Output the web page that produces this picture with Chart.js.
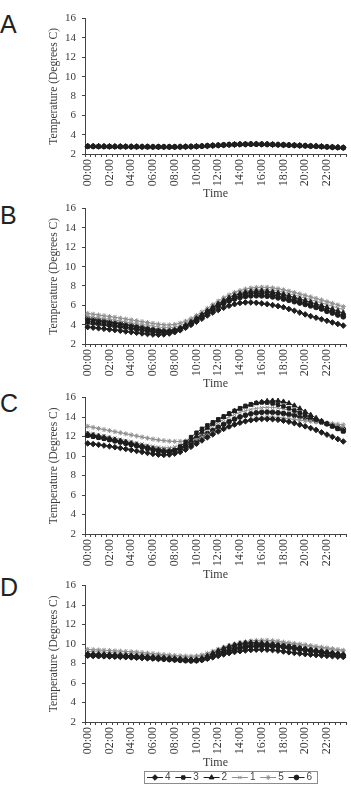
<!DOCTYPE html>
<html><head><meta charset="utf-8">
<script src="https://cdn.jsdelivr.net/npm/chart.js@4.4.1/dist/chart.umd.min.js"></script>
<style>
html,body{margin:0;padding:0;background:#fff;}
body{width:351px;height:798px;position:relative;overflow:hidden;}
canvas{position:absolute;left:0;}
.letter{position:absolute;left:0;font-family:'Liberation Sans',Arial,sans-serif;font-size:25px;line-height:1;color:#222;}
</style></head><body>
<div class="letter" style="top:12px">A</div>
<div class="letter" style="top:203px">B</div>
<div class="letter" style="top:391px">C</div>
<div class="letter" style="top:575px">D</div>
<canvas id="cA" width="351" height="195" style="top:6px"></canvas>
<canvas id="cB" width="351" height="195" style="top:196px"></canvas>
<canvas id="cC" width="351" height="197" style="top:385px"></canvas>
<canvas id="cD" width="351" height="225" style="top:573px"></canvas>
<script>
const timeLabels = ['00:00','00:30','01:00','01:30','02:00','02:30','03:00','03:30','04:00','04:30','05:00','05:30','06:00','06:30','07:00','07:30','08:00','08:30','09:00','09:30','10:00','10:30','11:00','11:30','12:00','12:30','13:00','13:30','14:00','14:30','15:00','15:30','16:00','16:30','17:00','17:30','18:00','18:30','19:00','19:30','20:00','20:30','21:00','21:30','22:00','22:30','23:00','23:30'];
const seriesNames = ['4','3','2','1','5','6'];
const yTickMin = 2, yTickMax = 16, yTickStep = 2;

// Panel A
const a4 = [2.80,2.79,2.79,2.78,2.78,2.77,2.77,2.76,2.76,2.76,2.75,2.75,2.75,2.74,2.74,2.74,2.74,2.75,2.75,2.76,2.78,2.80,2.83,2.86,2.89,2.92,2.95,2.97,2.99,3.00,3.01,3.01,3.00,2.99,2.97,2.95,2.93,2.91,2.89,2.87,2.85,2.82,2.80,2.77,2.74,2.71,2.68,2.65];
const a3 = [2.78,2.78,2.77,2.77,2.76,2.76,2.75,2.75,2.75,2.74,2.74,2.74,2.73,2.73,2.73,2.73,2.73,2.74,2.75,2.77,2.79,2.82,2.85,2.88,2.91,2.94,2.97,2.99,3.01,3.02,3.03,3.02,3.01,3.00,2.98,2.96,2.94,2.92,2.89,2.87,2.84,2.82,2.79,2.76,2.73,2.70,2.67,2.64];
const a2 = [2.81,2.80,2.80,2.79,2.79,2.78,2.78,2.77,2.77,2.76,2.76,2.76,2.75,2.75,2.75,2.75,2.75,2.76,2.77,2.78,2.80,2.83,2.86,2.89,2.92,2.95,2.98,3.00,3.02,3.03,3.04,3.04,3.03,3.02,3.00,2.98,2.96,2.93,2.91,2.88,2.86,2.83,2.81,2.78,2.75,2.72,2.69,2.66];
const a1 = [2.77,2.77,2.76,2.76,2.75,2.75,2.74,2.74,2.74,2.73,2.73,2.73,2.72,2.72,2.72,2.72,2.72,2.73,2.74,2.75,2.77,2.80,2.83,2.86,2.89,2.92,2.95,2.97,2.99,3.00,3.01,3.01,3.00,2.99,2.97,2.95,2.93,2.91,2.88,2.86,2.83,2.81,2.78,2.75,2.72,2.69,2.66,2.63];
const a5 = [2.82,2.82,2.81,2.81,2.80,2.80,2.79,2.79,2.78,2.78,2.78,2.77,2.77,2.77,2.76,2.76,2.76,2.77,2.78,2.79,2.81,2.84,2.87,2.90,2.93,2.96,2.99,3.01,3.03,3.04,3.05,3.05,3.04,3.03,3.01,2.99,2.97,2.95,2.92,2.90,2.87,2.85,2.82,2.79,2.76,2.73,2.70,2.67];
const a6 = [2.79,2.79,2.78,2.78,2.77,2.77,2.76,2.76,2.75,2.75,2.75,2.74,2.74,2.74,2.74,2.73,2.73,2.74,2.75,2.76,2.78,2.81,2.84,2.87,2.90,2.93,2.96,2.98,3.00,3.01,3.02,3.02,3.01,3.00,2.98,2.96,2.94,2.92,2.90,2.87,2.85,2.82,2.80,2.77,2.74,2.71,2.68,2.65];

// Panel B
const b4 = [3.75,3.69,3.63,3.57,3.51,3.44,3.37,3.30,3.23,3.16,3.09,3.03,2.98,2.96,2.99,3.08,3.22,3.42,3.68,3.98,4.30,4.62,4.95,5.25,5.52,5.75,5.95,6.12,6.24,6.30,6.30,6.26,6.20,6.12,6.02,5.92,5.80,5.62,5.44,5.25,5.06,4.88,4.72,4.56,4.40,4.23,4.07,3.90];
const b3 = [4.35,4.28,4.20,4.12,4.03,3.94,3.85,3.75,3.65,3.55,3.45,3.35,3.26,3.19,3.17,3.22,3.36,3.58,3.88,4.22,4.58,4.95,5.32,5.68,6.02,6.33,6.60,6.83,7.01,7.13,7.20,7.23,7.22,7.17,7.08,6.96,6.82,6.67,6.51,6.35,6.18,6.01,5.84,5.66,5.48,5.29,5.10,4.90];
const b2 = [4.20,4.14,4.08,4.01,3.94,3.87,3.80,3.72,3.64,3.56,3.48,3.41,3.34,3.29,3.27,3.31,3.43,3.64,3.93,4.27,4.64,5.02,5.41,5.79,6.15,6.48,6.77,7.01,7.20,7.34,7.43,7.48,7.49,7.45,7.37,7.26,7.13,6.98,6.82,6.66,6.49,6.32,6.14,5.96,5.78,5.59,5.40,5.20];
const b1 = [4.85,4.78,4.71,4.63,4.55,4.47,4.38,4.29,4.20,4.11,4.02,3.93,3.84,3.76,3.70,3.68,3.74,3.88,4.10,4.38,4.70,5.06,5.44,5.82,6.19,6.53,6.84,7.10,7.31,7.47,7.58,7.64,7.66,7.63,7.56,7.46,7.34,7.20,7.05,6.90,6.74,6.58,6.42,6.25,6.08,5.91,5.73,5.55];
const b5 = [5.15,5.08,5.00,4.92,4.84,4.76,4.67,4.58,4.49,4.40,4.31,4.22,4.13,4.05,3.99,3.97,4.02,4.15,4.36,4.63,4.95,5.31,5.69,6.07,6.44,6.78,7.08,7.33,7.53,7.68,7.79,7.85,7.87,7.86,7.80,7.71,7.60,7.47,7.33,7.18,7.03,6.87,6.71,6.55,6.38,6.21,6.04,5.86];
const b6 = [4.60,4.52,4.44,4.36,4.27,4.18,4.09,3.99,3.89,3.79,3.69,3.59,3.49,3.41,3.36,3.36,3.43,3.58,3.82,4.12,4.46,4.82,5.19,5.55,5.89,6.19,6.45,6.65,6.80,6.91,6.97,6.99,6.98,6.94,6.87,6.77,6.65,6.52,6.38,6.24,6.09,5.94,5.78,5.62,5.38,5.20,5.00,4.82];

// Panel C
const c4 = [11.30,11.23,11.16,11.08,11.00,10.91,10.82,10.72,10.62,10.52,10.42,10.32,10.22,10.15,10.12,10.15,10.25,10.42,10.66,10.95,11.27,11.60,11.92,12.23,12.52,12.79,13.03,13.24,13.42,13.57,13.68,13.76,13.80,13.80,13.78,13.72,13.63,13.52,13.38,13.22,13.05,12.87,12.68,12.43,12.20,11.97,11.74,11.50];
const c3 = [12.10,11.99,11.88,11.77,11.65,11.53,11.41,11.28,11.15,11.02,10.88,10.74,10.60,10.47,10.38,10.40,10.60,10.98,11.45,11.95,12.40,12.80,13.15,13.47,13.78,14.08,14.37,14.65,14.92,15.15,15.33,15.45,15.50,15.48,15.40,15.27,15.10,14.90,14.68,14.45,14.22,13.98,13.74,13.52,13.30,13.04,12.78,12.52];
const c2 = [12.25,12.14,12.03,11.92,11.80,11.68,11.56,11.43,11.30,11.17,11.03,10.89,10.75,10.61,10.50,10.46,10.56,10.82,11.18,11.60,12.04,12.48,12.90,13.30,13.67,14.01,14.32,14.60,14.85,15.07,15.26,15.42,15.55,15.64,15.68,15.66,15.58,15.42,15.18,14.88,14.55,14.22,13.90,13.60,13.32,13.06,12.82,12.60];
const c1 = [12.40,12.29,12.18,12.07,11.96,11.84,11.72,11.60,11.48,11.36,11.24,11.12,11.01,10.92,10.86,10.86,10.94,11.12,11.38,11.70,12.05,12.42,12.78,13.13,13.46,13.76,14.03,14.27,14.48,14.65,14.79,14.89,14.96,15.00,14.99,14.94,14.84,14.70,14.52,14.32,14.11,13.91,13.72,13.55,13.39,13.24,13.09,12.95];
const c5 = [13.05,12.94,12.83,12.72,12.61,12.50,12.39,12.28,12.17,12.06,11.95,11.84,11.74,11.65,11.58,11.53,11.50,11.50,11.54,11.62,11.76,11.94,12.14,12.36,12.58,12.80,13.02,13.22,13.42,13.60,13.76,13.88,13.96,14.00,14.00,13.96,13.90,13.83,13.76,13.69,13.62,13.56,13.50,13.44,13.38,13.32,13.26,13.20];
const c6 = [12.15,12.04,11.93,11.82,11.70,11.58,11.46,11.34,11.22,11.10,10.98,10.86,10.75,10.65,10.57,10.54,10.60,10.76,11.00,11.30,11.63,11.97,12.31,12.64,12.96,13.26,13.54,13.79,14.01,14.19,14.33,14.43,14.49,14.51,14.49,14.44,14.37,14.28,14.18,14.06,13.93,13.79,13.64,13.48,13.31,13.13,12.94,12.75];

// Panel D
const d4 = [8.80,8.78,8.76,8.74,8.72,8.70,8.68,8.66,8.63,8.60,8.57,8.54,8.51,8.48,8.45,8.42,8.39,8.36,8.33,8.31,8.32,8.38,8.50,8.64,8.79,8.94,9.07,9.18,9.27,9.34,9.39,9.42,9.43,9.42,9.38,9.32,9.24,9.16,9.09,9.03,8.97,8.92,8.87,8.83,8.79,8.75,8.71,8.67];
const d3 = [8.90,8.88,8.86,8.84,8.82,8.80,8.78,8.75,8.72,8.69,8.66,8.63,8.60,8.56,8.52,8.48,8.44,8.40,8.36,8.34,8.36,8.46,8.64,8.86,9.08,9.28,9.46,9.61,9.73,9.82,9.88,9.92,9.94,9.94,9.92,9.88,9.82,9.75,9.67,9.58,9.49,9.40,9.31,9.22,9.13,9.04,8.95,8.86];
const d2 = [9.00,8.98,8.96,8.94,8.92,8.90,8.87,8.84,8.81,8.78,8.75,8.71,8.67,8.63,8.59,8.55,8.51,8.47,8.43,8.40,8.42,8.55,8.78,9.05,9.32,9.56,9.76,9.92,10.04,10.12,10.15,10.14,10.10,10.04,9.97,9.89,9.81,9.73,9.65,9.57,9.49,9.41,9.33,9.25,9.17,9.09,9.01,8.93];
const d1 = [9.25,9.22,9.19,9.16,9.13,9.10,9.07,9.04,9.01,8.98,8.95,8.91,8.87,8.83,8.79,8.75,8.71,8.67,8.64,8.62,8.65,8.75,8.90,9.08,9.28,9.48,9.66,9.82,9.96,10.07,10.15,10.20,10.22,10.21,10.18,10.13,10.07,10.00,9.93,9.86,9.79,9.72,9.64,9.56,9.48,9.40,9.32,9.24];
const d5 = [9.45,9.42,9.39,9.36,9.33,9.30,9.27,9.24,9.21,9.18,9.12,9.07,9.02,8.97,8.92,8.87,8.83,8.79,8.76,8.75,8.78,8.88,9.05,9.26,9.48,9.68,9.86,10.01,10.14,10.24,10.32,10.37,10.39,10.38,10.34,10.29,10.20,10.13,10.06,9.99,9.92,9.84,9.76,9.68,9.60,9.52,9.44,9.36];
const d6 = [8.85,8.83,8.81,8.79,8.77,8.75,8.73,8.70,8.67,8.64,8.61,8.58,8.54,8.50,8.46,8.42,8.38,8.34,8.30,8.28,8.30,8.38,8.52,8.70,8.90,9.10,9.28,9.44,9.57,9.67,9.74,9.78,9.80,9.80,9.78,9.74,9.68,9.61,9.53,9.45,9.37,9.29,9.21,9.13,9.05,8.97,8.89,8.81];

const DARK = '#1e1e1e', GREY = '#8f8f8f';
const styles = [
  {pointStyle:'rectRot', pointRadius:2.8, borderColor:DARK, pointBackgroundColor:DARK, pointBorderColor:DARK},
  {pointStyle:'rect', pointRadius:2.4, borderColor:DARK, pointBackgroundColor:DARK, pointBorderColor:DARK},
  {pointStyle:'triangle', pointRadius:2.8, borderColor:DARK, pointBackgroundColor:DARK, pointBorderColor:DARK},
  {pointStyle:'crossRot', pointRadius:2.5, borderColor:GREY, pointBackgroundColor:GREY, pointBorderColor:GREY},
  {pointStyle:'star', pointRadius:2.5, borderColor:GREY, pointBackgroundColor:GREY, pointBorderColor:GREY},
  {pointStyle:'circle', pointRadius:2.4, borderColor:DARK, pointBackgroundColor:DARK, pointBorderColor:DARK}
];

const SERIF = '"Liberation Serif","Times New Roman",serif';
const AXIS = '#444', TXT = '#3a3a3a';

const boxLegend = {
  id: 'boxLegend',
  afterDraw(chart, args, opts) {
    if (!opts || !opts.show) return;
    const ctx = chart.ctx;
    ctx.save();
    ctx.strokeStyle = '#8c8c8c'; ctx.lineWidth = 1;
    ctx.strokeRect(opts.x + 0.5, opts.y + 0.5, opts.w, opts.h);
    const cy = opts.y + opts.h / 2 + 0.5;
    chart.data.datasets.forEach((ds, i) => {
      const lx = opts.x + opts.first + i * opts.step;
      ctx.strokeStyle = ds.borderColor; ctx.lineWidth = 1;
      ctx.beginPath(); ctx.moveTo(lx - 18, cy); ctx.lineTo(lx - 2, cy); ctx.stroke();
      ctx.fillStyle = ds.pointBackgroundColor; ctx.strokeStyle = ds.pointBorderColor;
      Chart.helpers.drawPoint(ctx, {pointStyle: ds.pointStyle, radius: ds.pointRadius, borderWidth: 1, rotation: 0}, lx - 10, cy);
      ctx.fillStyle = '#444'; ctx.font = '10px "Liberation Sans", Arial, sans-serif';
      ctx.textBaseline = 'middle'; ctx.textAlign = 'left';
      ctx.fillText(ds.label, lx, cy);
    });
    ctx.restore();
  }
};

function makeChart(id, series, xH, padBottom, legendOpts) {
  return new Chart(document.getElementById(id), {
    type: 'line',
    data: {
      labels: timeLabels,
      datasets: seriesNames.map((n, i) => Object.assign({
        label: n, data: series[i], borderWidth: 1, pointBorderWidth: 1, fill: false, tension: 0
      }, styles[i]))
    },
    options: {
      responsive: false, animation: false, devicePixelRatio: 1,
      layout: {padding: {left: 47, right: 1, top: 10, bottom: padBottom}},
      plugins: {legend: {display: false}, tooltip: {enabled: false}, boxLegend: legendOpts || {show: false}},
      scales: {
        x: {
          offset: true,
          grid: {display: true, drawOnChartArea: false, drawTicks: true, tickLength: 3, color: AXIS, offset: true},
          border: {display: true, color: AXIS, width: 1},
          ticks: {autoSkip: false, maxRotation: 90, minRotation: 90, padding: 2, color: TXT,
                  font: {family: SERIF, size: 12},
                  callback: (v, i) => (i % 4 === 0 ? timeLabels[i] : '')},
          title: {display: true, text: 'Time', color: TXT, font: {family: SERIF, size: 12}, padding: 0},
          afterFit: s => { s.height = xH; s.paddingLeft = 0; s.paddingRight = 0; }
        },
        y: {
          min: yTickMin, max: yTickMax,
          ticks: {stepSize: yTickStep, padding: 6, color: TXT, font: {family: SERIF, size: 11}},
          grid: {display: true, drawOnChartArea: false, drawTicks: true, tickLength: 3, color: AXIS},
          border: {display: true, color: AXIS, width: 1},
          title: {display: true, text: 'Temperature (Degrees C)', color: TXT, font: {family: SERIF, size: 11.5}, padding: 0},
          afterFit: s => { s.width = 38; }
        }
      }
    },
    plugins: [boxLegend]
  });
}

makeChart('cA', [a4, a3, a2, a1, a5, a6], 47, 0);
makeChart('cB', [b4, b3, b2, b1, b5, b6], 47, 0);
makeChart('cC', [c4, c3, c2, c1, c5, c6], 48, 0);
makeChart('cD', [d4, d3, d2, d1, d5, d6], 48, 28, {show: true, x: 144, y: 198, w: 173, h: 12, first: 21, step: 28.3});
</script>
</body></html>
